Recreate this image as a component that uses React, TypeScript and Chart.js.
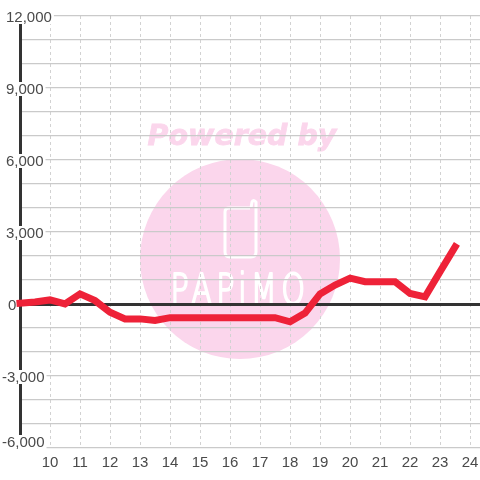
import React, { useEffect, useRef } from "react";
import { Chart, registerables } from "chart.js";

Chart.register(...registerables);

const hours = [9, 9.5, 10, 10.5, 11, 11.5, 12, 12.5, 13, 13.5, 14, 14.5, 15, 15.5, 16, 16.5, 17, 17.5, 18, 18.5, 19, 19.5, 20, 20.5, 21, 21.5, 22, 22.5, 23, 23.5];
const values = [30, 80, 170, 0, 420, 140, -340, -620, -620, -690, -570, -570, -570, -570, -570, -570, -570, -570, -740, -380, 420, 790, 1080, 930, 930, 930, 440, 300, 1350, 2380];
const labelledStep = 3000;
const watermarkTitle = "Powered by";
const watermarkBrand = "PAPiMO";

const FONT = '"Liberation Sans", Arial, sans-serif';
const TEXT = "#4a4a4a";
const GRID = "#cacaca";
const DASH = "#d2d2d2";
const AXIS = "#333333";
const RED = "#ee2238";
const PINK = "#fbd6ec";

const watermark = {
  id: "watermark",
  beforeDraw(chart: any) {
    const c = chart.ctx;
    c.save();
    c.fillStyle = "#ffffff";
    c.fillRect(0, 0, 480, 480);
    c.fillStyle = PINK;
    c.beginPath();
    c.arc(240, 259, 100, 0, Math.PI * 2);
    c.fill();
    c.font = 'italic bold 28.5px "DejaVu Sans"';
    c.textAlign = "center";
    c.textBaseline = "alphabetic";
    c.strokeStyle = PINK;
    c.lineWidth = 0.8;
    c.fillText(watermarkTitle, 242, 145);
    c.strokeText(watermarkTitle, 242, 145);
    c.strokeStyle = "#ffffff";
    c.lineWidth = 3;
    c.lineJoin = "round";
    c.beginPath();
    c.moveTo(250, 208);
    c.lineTo(229, 208);
    c.quadraticCurveTo(225, 208, 225, 212);
    c.lineTo(225, 252);
    c.quadraticCurveTo(225, 257, 230, 257);
    c.lineTo(251, 257);
    c.quadraticCurveTo(256, 257, 256, 252);
    c.lineTo(256, 202);
    c.quadraticCurveTo(253, 199, 252, 202);
    c.lineTo(251, 208);
    c.stroke();
    c.save();
    c.translate(240, 304);
    c.scale(0.72, 1);
    c.fillStyle = "#ffffff";
    c.font = '200 42px "DejaVu Sans"';
    (c as any).letterSpacing = "6px";
    c.textAlign = "center";
    c.lineWidth = 2.2;
    c.fillText(watermarkBrand, 0, 0);
    c.strokeText(watermarkBrand, 0, 0);
    (c as any).letterSpacing = "0px";
    c.restore();
    c.restore();
  },
};

const yLabels = {
  id: "yLabels",
  beforeDatasetsDraw(chart: any) {
    const c = chart.ctx;
    const s = chart.scales.y;
    c.save();
    c.font = `15px ${FONT}`;
    c.textBaseline = "middle";
    c.textAlign = "left";
    s.ticks.forEach((t: any, i: number) => {
      if (!t.label) return;
      const y = Math.min(s.getPixelForTick(i), s.bottom - 7);
      const x = t.value < 0 ? 2 : t.value === 0 ? 8 : 6;
      const w = c.measureText(t.label).width;
      if (t.value !== 0) {
        c.fillStyle = "#ffffff";
        c.fillRect(x - 1, y - 6, w + 3, 14);
      }
      c.fillStyle = TEXT;
      c.fillText(t.label, x, y + 2);
    });
    c.restore();
  },
};

export default function App() {
  const ref = useRef<HTMLCanvasElement>(null);
  useEffect(() => {
    document.body.style.margin = "0";
    const chart = new Chart(ref.current!, {
      type: "line",
      data: {
        datasets: [
          {
            data: hours.map((h, i) => ({ x: h, y: values[i] })),
            borderColor: RED,
            borderWidth: 7,
            pointRadius: 0,
            tension: 0,
            borderCapStyle: "square",
            borderJoinStyle: "miter",
            clip: false,
          },
        ],
      },
      options: {
        animation: false,
        responsive: false,
        layout: { padding: { top: 16, left: 0, right: 0, bottom: 0 } },
        plugins: { legend: { display: false }, tooltip: { enabled: false } },
        scales: {
          x: {
            type: "linear",
            min: 9,
            max: 24.33,
            afterFit: (s: any) => {
              s.height = 32;
              s.paddingRight = 0;
              s.paddingLeft = 0;
            },
            ticks: {
              stepSize: 1,
              includeBounds: false,
              autoSkip: false,
              maxRotation: 0,
              padding: 6,
              color: TEXT,
              font: { family: FONT, size: 15 },
              callback: (v: any) => (v === 9 ? "" : String(v)),
            },
            grid: {
              color: DASH,
              lineWidth: 1,
              drawTicks: false,
              tickLength: 0,
            },
            border: { display: false, dash: [3, 3] },
          },
          y: {
            min: -6000,
            max: 12000,
            afterFit: (s: any) => {
              s.width = 20;
              s.paddingTop = 0;
              s.paddingBottom = 0;
            },
            ticks: {
              display: false,
              stepSize: 1000,
              autoSkip: false,
              callback: (v: any) => (v % labelledStep === 0 ? Number(v).toLocaleString("en-US") : ""),
            },
            grid: {
              color: (ctx: any) => (ctx.tick.value === 0 ? AXIS : GRID),
              lineWidth: (ctx: any) => (ctx.tick.value === 0 ? 3 : 1.3),
              drawTicks: false,
              tickLength: 0,
            },
            border: { display: true, color: AXIS, width: 3 },
          },
        },
      },
      plugins: [watermark, yLabels],
    } as any);
    return () => chart.destroy();
  }, []);
  return <canvas ref={ref} width={480} height={480} style={{ display: "block" }} />;
}
